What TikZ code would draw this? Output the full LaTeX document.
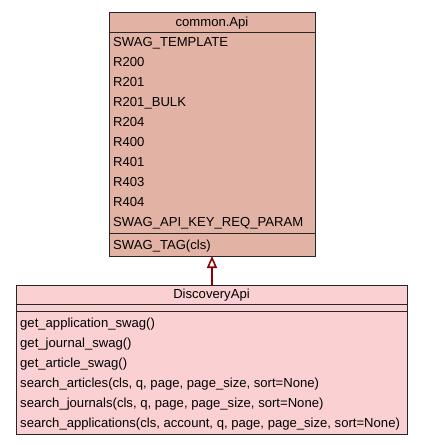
\documentclass[tikz,border=0pt]{standalone}
\usepackage{fontspec}
\setmainfont{Liberation Sans}
\usetikzlibrary{arrows.meta}
\definecolor{apifill}{RGB}{226,178,164}
\definecolor{discfill}{RGB}{251,208,211}
\definecolor{inhcol}{RGB}{139,0,0}
\begin{document}
\begin{tikzpicture}[x=1pt,y=-1pt,
  classbox/.style={draw=black!85,line width=1pt,inner sep=0pt,outer sep=0pt,rectangle},
  member/.style={anchor=base west,inner sep=0pt,font=\fontsize{13.1}{15}\selectfont},
  ctitle/.style={anchor=base,inner sep=0pt,font=\fontsize{13.1}{15}\selectfont},
  sepline/.style={draw=black!85,line width=1pt},
  inherit/.style={draw=inhcol,line width=1.6pt,-{Triangle[open,width=10pt,length=12pt,line width=1.6pt]}}]
\useasboundingbox (0,0) rectangle (421,445);
% common.Api
\node[classbox,fill=apifill,minimum width=206pt,minimum height=244pt] (api) at (212,134) {};
\draw[sepline] (109,32) -- (315,32);
\draw[sepline] (109,233) -- (315,233);
\node[ctitle] (apit) at (212,26) {common.Api};
\node[member] (a1) at (113,46) {SWAG\_TEMPLATE};
\node[member] (a2) at (113,66) {R200};
\node[member] (a3) at (113,86) {R201};
\node[member] (a4) at (113,106) {R201\_BULK};
\node[member] (a5) at (113,126) {R204};
\node[member] (a6) at (113,146) {R400};
\node[member] (a7) at (113,166) {R401};
\node[member] (a8) at (113,186) {R403};
\node[member] (a9) at (113,206) {R404};
\node[member] (a10) at (113,226) {SWAG\_API\_KEY\_REQ\_PARAM};
\node[member] (a11) at (113,249) {SWAG\_TAG(cls)};
% DiscoveryApi
\node[classbox,fill=discfill,minimum width=391pt,minimum height=149pt] (disc) at (211.5,359.5) {};
\draw[sepline] (16,304) -- (407,304);
\draw[sepline] (16,311.5) -- (407,311.5);
\node[ctitle] (disct) at (211.5,298.5) {DiscoveryApi};
\node[member] (m1) at (20,327.5) {get\_application\_swag()};
\node[member] (m2) at (20,347.5) {get\_journal\_swag()};
\node[member] (m3) at (20,367.5) {get\_article\_swag()};
\node[member] (m4) at (20,387.5) {search\_articles(cls, q, page, page\_size, sort=None)};
\node[member] (m5) at (20,407.5) {search\_journals(cls, q, page, page\_size, sort=None)};
\node[member] (m6) at (20,427.5) {search\_applications(cls, account, q, page, page\_size, sort=None)};
% inheritance
\draw[inherit] (disc.north -| api.south) -- (api.south);
\end{tikzpicture}
\end{document}
